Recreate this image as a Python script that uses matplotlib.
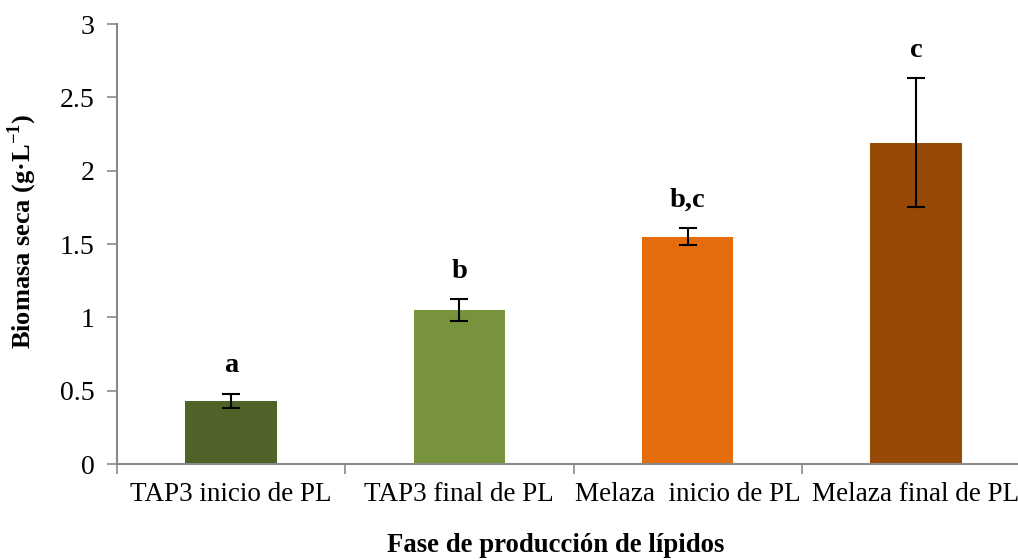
import matplotlib.pyplot as plt
import numpy as np

categories = ['TAP3 inicio de PL', 'TAP3 final de PL', 'Melaza  inicio de PL', 'Melaza final de PL']
biomass = [0.43, 1.05, 1.55, 2.19]
errors = [0.05, 0.073, 0.057, 0.44]
letters = ['a', 'b', 'b,c', 'c']
colors = ['#4F6228', '#77933C', '#E46C0A', '#984807']

plt.rcParams['font.family'] = ['Liberation Serif', 'DejaVu Serif']
plt.rcParams['mathtext.fontset'] = 'custom'
plt.rcParams['mathtext.rm'] = 'Liberation Serif'
plt.rcParams['mathtext.bf'] = 'Liberation Serif:bold'

fig = plt.figure(figsize=(10.18, 5.6), dpi=100)
ax = fig.add_axes([117 / 1018, 96 / 560, 913 / 1018, 440 / 560])

x = np.arange(len(categories))
ax.bar(x, biomass, width=0.40, color=colors, zorder=2)
ax.errorbar(x, biomass, yerr=errors, fmt='none', ecolor='black',
            elinewidth=1.5, capsize=6.5, capthick=1.5, zorder=3)

for xi, v, e, lab in zip(x, biomass, errors, letters):
    ax.annotate(lab, (xi, v + e), xytext=(0, 11), textcoords='offset points',
                ha='center', va='bottom', fontsize=20.5, fontweight='bold')

ax.set_xlim(-0.5, len(categories) - 0.5)
ax.set_ylim(0, 3)
ax.set_yticks([0, 0.5, 1, 1.5, 2, 2.5, 3])
ax.set_yticklabels(['0', '0.5', '1', '1.5', '2', '2.5', '3'])
ax.set_xticks(x)
ax.set_xticklabels(categories)
ax.set_xticks(np.arange(len(categories) + 1) - 0.5, minor=True)

for side in ['top', 'right']:
    ax.spines[side].set_visible(False)
for side in ['left', 'bottom']:
    ax.spines[side].set_color('#898989')
    ax.spines[side].set_linewidth(1.5)

ax.tick_params(axis='y', length=7, width=1.2, color='#898989', labelsize=20, pad=9)
ax.tick_params(axis='x', which='major', length=0, labelsize=19.5, pad=13)
ax.tick_params(axis='x', which='minor', length=7, width=1.2, color='#898989')

ax.set_ylabel('Biomasa seca (g·L$^{\\mathbf{-1}}$)', fontsize=19, fontweight='bold')
ax.yaxis.set_label_coords(-0.085, 0.53)
fig.text(556 / 1018, 1 - 545 / 560, 'Fase de producción de lípidos', ha='center', va='center',
         fontsize=19.3, fontweight='bold')

fig.savefig('out.png', dpi=100)
